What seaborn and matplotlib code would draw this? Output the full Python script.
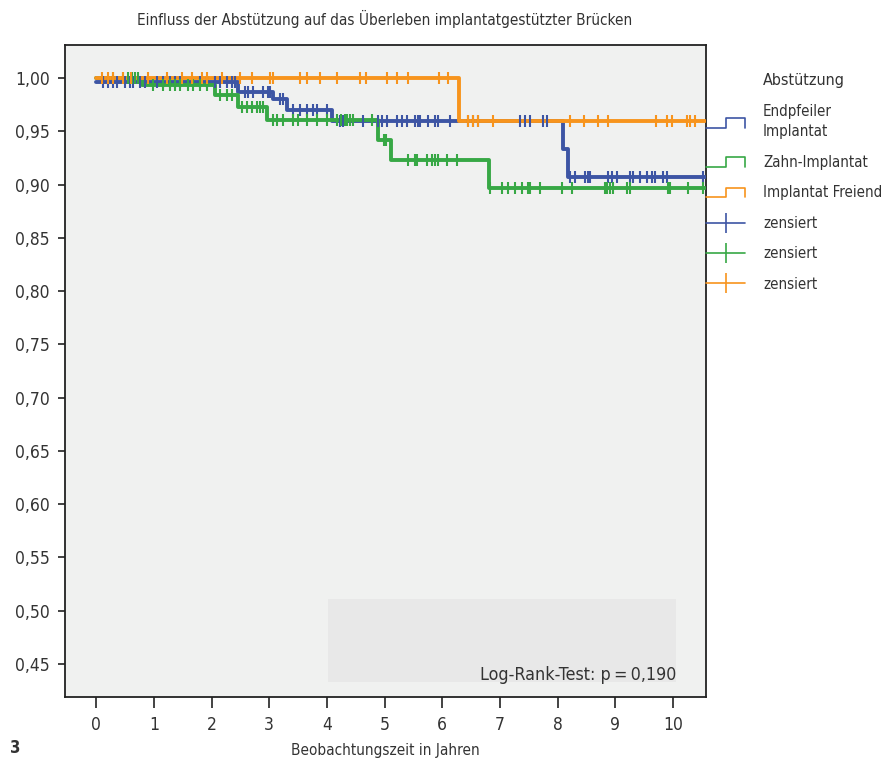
import numpy as np
import pandas as pd
import matplotlib
matplotlib.use("Agg")
import matplotlib.pyplot as plt
import seaborn as sns
from matplotlib.lines import Line2D
from matplotlib.patches import Rectangle
from matplotlib.legend_handler import HandlerBase
from matplotlib.ticker import FuncFormatter

# Kaplan-Meier Stufen (Zeit in Jahren, Überlebensrate)
blau_t = [0.0, 2.46, 3.07, 3.30, 4.09, 8.09, 8.18, 10.55]
blau_s = [0.996, 0.987, 0.980, 0.970, 0.960, 0.933, 0.907, 0.907]
gruen_t = [0.0, 0.80, 2.06, 2.46, 2.96, 4.88, 5.11, 6.81, 10.55]
gruen_s = [1.000, 0.993, 0.984, 0.973, 0.961, 0.942, 0.923, 0.897, 0.897]
orange_t = [0.0, 6.29, 10.55]
orange_s = [1.000, 0.960, 0.960]

# zensierte Beobachtungen
blau_zens = [0.12, 0.21, 0.29, 0.36, 0.50, 0.59, 0.64, 0.76, 0.85, 1.06, 1.16, 1.28,
             1.37, 1.46, 1.80, 1.92, 2.06, 2.15, 2.27, 2.36, 2.40, 2.58, 2.64, 2.72,
             2.89, 2.98, 3.02, 3.19, 3.24, 3.41, 3.54, 3.66, 3.76, 3.83, 4.0, 4.23,
             4.28, 4.63, 4.89, 4.95, 5.04, 5.21, 5.30, 5.38, 5.53, 5.58, 5.61, 5.76,
             5.87, 5.93, 6.13, 6.45, 6.54, 6.62, 7.35, 7.43, 7.52, 7.75, 7.81, 8.22,
             8.30, 8.47, 8.53, 8.56, 8.87, 8.94, 9.03, 9.25, 9.31, 9.43, 9.55, 9.64,
             9.69, 9.83, 9.90, 10.52]
gruen_zens = [0.29, 0.47, 0.55, 0.62, 0.68, 0.73, 0.99, 1.16, 1.28, 1.37, 1.46, 1.59,
              1.68, 1.80, 1.92, 2.15, 2.27, 2.36, 2.53, 2.62, 2.70, 2.79, 2.84, 2.89,
              3.07, 3.14, 3.24, 3.41, 3.50, 3.66, 3.83, 4.0, 4.18, 4.35, 4.45, 4.25,
              4.31, 4.40, 4.78, 4.99, 5.02, 5.41, 5.53, 5.56, 5.74, 5.82, 5.88, 5.93,
              6.08, 6.26, 6.83, 7.04, 7.14, 7.26, 7.38, 7.49, 7.52, 7.69, 8.08, 8.25,
              8.82, 8.86, 8.91, 8.96, 9.20, 9.25, 9.91, 9.95, 10.26, 10.52]
orange_zens = [0.10, 0.20, 0.30, 0.47, 0.60, 0.90, 1.23, 1.49, 1.66, 1.84, 1.92, 2.18,
               2.50, 2.70, 3.02, 3.07, 3.54, 3.66, 3.88, 4.18, 4.58, 4.68, 5.04, 5.21,
               5.41, 5.94, 6.10, 6.45, 6.54, 6.62, 6.88, 8.22, 8.46, 8.70, 8.87, 9.71,
               9.90, 9.98, 10.24, 10.29, 10.38]

gruppen = ["Endpfeiler\nImplantat", "Zahn-Implantat", "Implantat Freiend"]
farben = ["#3d55a4", "#37a845", "#f7941d"]
y_ticks = [0.45, 0.50, 0.55, 0.60, 0.65, 0.70, 0.75, 0.80, 0.85, 0.90, 0.95, 1.00]
x_ticks = list(range(0, 11))

kurven = [(blau_t, blau_s, blau_zens), (gruen_t, gruen_s, gruen_zens),
          (orange_t, orange_s, orange_zens)]

sns.set_theme(style="white")
plt.rcParams['font.family'] = ['DejaVu Sans']
plt.rcParams['font.stretch'] = 'condensed'
textfarbe = "#333333"

fig = plt.figure(figsize=(8.86, 7.58), dpi=100)
ax = fig.add_axes([65 / 886, 1 - 697 / 758, 641 / 886, 652 / 758])
ax.set_facecolor("#f0f1f0")

# Hintergrund-Kasten für den Test
ax.add_patch(Rectangle((4.02, 0.433), 6.03, 0.078, facecolor="#e8e8e8",
                       edgecolor="none", zorder=0))
ax.text(10.05, 0.4345, "Log-Rank-Test: p\u2009=\u20090,190", ha="right", va="baseline",
        fontsize=12.8, color=textfarbe)

reihenfolge = [1, 0, 2]
for i in reihenfolge:
    t, s, z = kurven[i]
    df = pd.DataFrame({"zeit": t, "ueberleben": s})
    sns.lineplot(data=df, x="zeit", y="ueberleben", drawstyle="steps-post",
                 color=farben[i], lw=2.8, ax=ax, zorder=3 + i)
for i in reihenfolge:
    t, s, z = kurven[i]
    idx = np.searchsorted(t, z, side="right") - 1
    dz = pd.DataFrame({"zeit": z, "ueberleben": np.array(s)[idx]})
    sns.scatterplot(data=dz, x="zeit", y="ueberleben", marker="|", s=85,
                    color=farben[i], linewidth=1.5, ax=ax, zorder=6 + i)

ax.set_xlim(-0.54, 10.57)
ax.set_ylim(0.419, 1.031)
ax.set_xticks(x_ticks)
ax.set_yticks(y_ticks)
ax.yaxis.set_major_formatter(FuncFormatter(lambda v, p: f"{v:.2f}".replace(".", ",")))
ax.tick_params(axis="both", direction="out", width=1.2, colors="#222222",
               labelcolor=textfarbe, labelsize=12.5, bottom=True, left=True)
ax.tick_params(axis="x", length=8, pad=6)
ax.tick_params(axis="y", length=5, pad=6)
for sp in ax.spines.values():
    sp.set_color("#222222")
    sp.set_linewidth(1.3)
ax.set_xlabel("")
ax.set_ylabel("")

fig.text(385 / 886, 1 - 19 / 758, "Einfluss der Abstützung auf das Überleben implantatgestützter Brücken",
         ha="center", va="center", fontsize=11, color=textfarbe)
fig.text(385 / 886, 1 - 750 / 758, "Beobachtungszeit in Jahren", ha="center", va="center",
         fontsize=11, color=textfarbe)
fig.text(10 / 886, 1 - 748 / 758, "3", ha="left", va="center", fontsize=12,
         fontweight="bold", color=textfarbe)


class StufenHandler(HandlerBase):
    def create_artists(self, legend, orig_handle, xdescent, ydescent, width, height,
                       fontsize, trans):
        x0 = -xdescent
        x1 = x0 + width
        xm = x0 + width * 0.5
        y0 = -ydescent + height * 0.0
        y1 = -ydescent + height * 0.9
        linie = Line2D([x0, xm, xm, x1, x1], [y0, y0, y1, y1, y0],
                       color=orig_handle.get_color(), lw=1.2, transform=trans)
        return [linie]


stufen = [Line2D([], [], color=c) for c in farben]
kreuze = [Line2D([], [], color=c, lw=1.2, marker="|", markersize=15, markeredgewidth=1.2)
          for c in farben]
handler = {h: StufenHandler() for h in stufen}
fig.text(763 / 886, 1 - 80 / 758, "Abstützung", ha="left", va="center",
         fontsize=11.5, color=textfarbe)
leg = fig.legend(stufen + kreuze, gruppen + ["zensiert"] * 3, handler_map=handler,
                 loc="upper left", bbox_to_anchor=(706 / 886, 1 - 104 / 758),
                 frameon=False, fontsize=10.8, labelcolor=textfarbe, handlelength=2.6,
                 handletextpad=1.2, borderpad=0, borderaxespad=0, labelspacing=1.03,
                 numpoints=1)
leg.get_texts()[0].set_linespacing(1.45)

fig.savefig("out.png", dpi=100, facecolor="white")
